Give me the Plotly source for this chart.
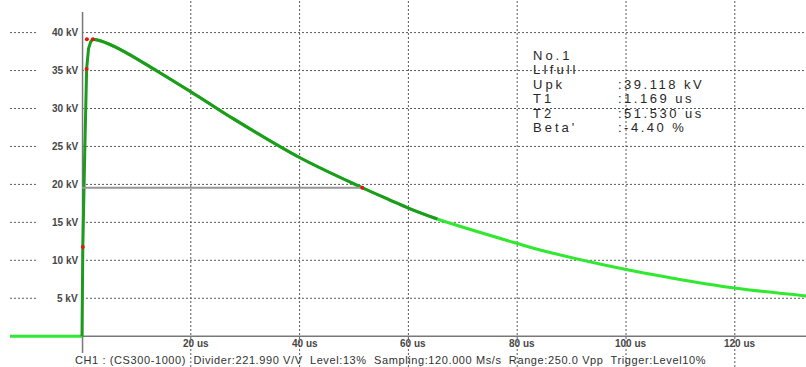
import plotly.graph_objects as go

# Impulse waveform (time in microseconds, voltage in kV)
time_us = [0.0, 0.15, 0.5, 0.85, 1.2, 1.6, 2.0, 3.5, 7.0, 13.7, 20.0, 24.1, 27.2,
           39.9, 51.53, 56.6, 60.1, 65.3, 79.9, 84.2, 99.8, 108.1, 119.9, 133.1]
voltage_kv = [0.0, 11.74, 24.0, 35.2, 37.9, 38.8, 39.118, 38.9, 37.8, 34.98, 32.2, 30.33, 28.92,
              23.57, 19.56, 17.94, 16.85, 15.44, 12.24, 11.36, 8.81, 7.71, 6.35, 5.3]

# Pre-trigger baseline
pre_time_us = [-13.24, 0.0]
pre_voltage_kv = [0.0, 0.0]

# Time of the crest and end of the evaluated section of the record
crest_us = 2.0
eval_end_us = 65.3

# Evaluation markers (30 %, 90 %, peak, 50 % on tail)
marker_time_us = [0.15, 0.85, 0.9, 2.0, 51.53]
marker_kv = [11.74, 35.2, 39.118, 39.118, 19.56]

# Half-value line
half_value_kv = 19.56
t2_us = 51.53

y_ticks_kv = [5, 10, 15, 20, 25, 30, 35, 40]
x_ticks_us = [20, 40, 60, 80, 100, 120]

info_labels = ["No.1", "LIfull", "Upk", "T1", "T2", "Beta'"]
info_values = ["", "", ":39.118 kV", ":1.169 us", ":51.530 us", ":-4.40 %"]

footer = ("CH1 : (CS300-1000)  Divider:221.990 V/V  Level:13%  Sampling:120.000 Ms/s  "
          "Range:250.0 Vpp  Trigger:Level10%")

W, H = 806, 367
X_RANGE = [-15.074, 133.088]
Y_RANGE = [-4.058, 44.295]

BRIGHT = "rgb(48,232,48)"
DARK = "rgb(30,155,30)"
GRID = "rgb(90,90,90)"


def segment(t_lo, t_hi):
    pts = [(t, v) for t, v in zip(time_us, voltage_kv) if t_lo <= t <= t_hi]
    return [p[0] for p in pts], [p[1] for p in pts]


front_t, front_v = segment(0, crest_us)
tail_t, tail_v = segment(crest_us, time_us[-1])
eval_tail_t, eval_tail_v = segment(crest_us, eval_end_us)

fig = go.Figure()

# full record in bright green
fig.add_trace(go.Scatter(x=pre_time_us, y=pre_voltage_kv, mode="lines",
                         line=dict(color=BRIGHT, width=3), hoverinfo="skip"))
fig.add_trace(go.Scatter(x=tail_t, y=tail_v, mode="lines",
                         line=dict(color=BRIGHT, width=3, shape="spline", smoothing=1.0),
                         hoverinfo="skip"))

# evaluated section in dark green
fig.add_trace(go.Scatter(x=front_t, y=front_v, mode="lines",
                         line=dict(color=DARK, width=3), hoverinfo="skip"))
fig.add_trace(go.Scatter(x=eval_tail_t, y=eval_tail_v, mode="lines",
                         line=dict(color=DARK, width=3, shape="spline", smoothing=1.0),
                         hoverinfo="skip"))

# half-value line
fig.add_trace(go.Scatter(x=[0, t2_us], y=[half_value_kv, half_value_kv], mode="lines",
                         line=dict(color="rgb(150,150,150)", width=2), hoverinfo="skip"))

fig.add_trace(go.Scatter(x=marker_time_us, y=marker_kv, mode="markers",
                         marker=dict(color="rgb(230,20,20)", size=4), hoverinfo="skip"))

shapes = []
# horizontal grid: short stub on the left, then the main run
for v in y_ticks_kv:
    for x0, x1 in ((-13.24, -8.27), (0, X_RANGE[1])):
        shapes.append(dict(type="line", xref="x", yref="y", x0=x0, x1=x1, y0=v, y1=v,
                           line=dict(color=GRID, width=1, dash="2px,2px"), layer="below"))
# vertical grid across full height
for t in x_ticks_us:
    shapes.append(dict(type="line", xref="x", yref="paper", x0=t, x1=t, y0=0, y1=1,
                       line=dict(color=GRID, width=1, dash="2px,2px"), layer="below"))
# axis lines
shapes.append(dict(type="line", xref="x", yref="y", x0=0.1, x1=0.1, y0=-2.2, y1=42.7,
                   line=dict(color="rgb(120,120,120)", width=1.5), layer="below"))
shapes.append(dict(type="line", xref="x", yref="y", x0=0, x1=X_RANGE[1], y0=0, y1=0,
                   line=dict(color="rgb(120,120,120)", width=1.5), layer="below"))

annotations = []
for v in y_ticks_kv:
    annotations.append(dict(x=0, y=v, xref="x", yref="y", text=f"<b>{v} kV</b>",
                            xanchor="right", yanchor="middle", xshift=-2, showarrow=False,
                            font=dict(family="Liberation Sans", size=10, color="rgb(70,70,70)")))
for t in x_ticks_us:
    annotations.append(dict(x=t, y=1 - 343 / H, xref="x", yref="paper", text=f"<b>{t} us</b>",
                            xanchor="center", yanchor="middle", xshift=5, showarrow=False,
                            font=dict(family="Liberation Sans", size=10, color="rgb(70,70,70)")))

line_y = [55, 69.5, 84, 98.5, 113, 127.5]
for lab, val, py in zip(info_labels, info_values, line_y):
    annotations.append(dict(x=531 / W, y=1 - py / H, xref="paper", yref="paper",
                            text=f'<span style="letter-spacing:3px">{lab}</span>',
                            xanchor="left", yanchor="middle", showarrow=False,
                            font=dict(family="Liberation Sans", size=13, color="rgb(40,40,40)")))
    if val:
        annotations.append(dict(x=616 / W, y=1 - py / H, xref="paper", yref="paper",
                                text=f'<span style="letter-spacing:2.5px">{val}</span>',
                                xanchor="left", yanchor="middle", showarrow=False,
                                font=dict(family="Liberation Sans", size=13, color="rgb(40,40,40)")))

annotations.append(dict(x=73 / W, y=1 - 360 / H, xref="paper", yref="paper",
                        text=f'<span style="letter-spacing:0.6px">{footer}</span>',
                        xanchor="left", yanchor="middle", showarrow=False,
                        font=dict(family="Liberation Sans", size=11, color="rgb(50,50,50)")))

fig.update_layout(
    width=W, height=H, margin=dict(l=0, r=0, t=0, b=0),
    paper_bgcolor="white", plot_bgcolor="white", showlegend=False,
    xaxis=dict(range=X_RANGE, visible=False, fixedrange=True),
    yaxis=dict(range=Y_RANGE, visible=False, fixedrange=True),
    shapes=shapes, annotations=annotations,
)

fig.write_html("out.html", config={"displayModeBar": False})
